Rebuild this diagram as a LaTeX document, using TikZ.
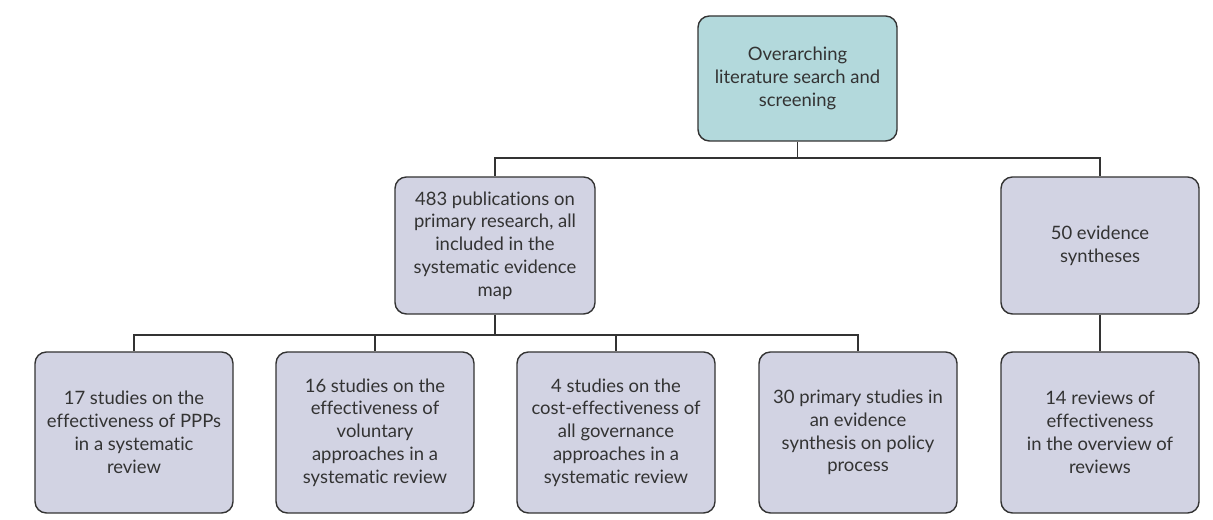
\documentclass[tikz,border=0pt]{standalone}
\usepackage{fontspec}
\setmainfont{Lato}[Ligatures=NoCommon]
\definecolor{tealbox}{HTML}{B3D9DC}
\definecolor{greybox}{HTML}{D2D3E3}
\definecolor{edge}{HTML}{333333}
\begin{document}
\begin{tikzpicture}[font=\fontsize{10.5}{13}\selectfont,
	box/.style={draw=edge,line width=0.8pt,rounded corners=6.5pt,fill=greybox,
		minimum width=39.6mm,align=center,text=black!80},
	link/.style={draw=edge,line width=0.8pt}]
	\useasboundingbox (0,0) rectangle (24.26,10.4);
	\node[box,fill=tealbox,minimum width=39.8mm,minimum height=25mm] (search) at (15.95,8.83)
		{Overarching\\literature search and\\screening};
	\node[box,minimum width=40mm,minimum height=27.4mm] (primary) at (9.9,5.49)
		{483 publications on\\primary research, all\\included in the\\systematic evidence\\map};
	\node[box,minimum height=27.4mm] (synth) at (22.0,5.49) {50 evidence\\syntheses};
	% bottom row
	\foreach \n/\x/\txt in {1/2.68/{17 studies on the\\effectiveness of PPPs\\in a systematic\\review},
		2/7.5/{16 studies on the\\effectiveness of\\voluntary\\approaches in a\\systematic review},
		3/12.32/{4 studies on the\\cost-effectiveness of\\all governance\\approaches in a\\systematic review},
		4/17.16/{30 primary studies in\\an evidence\\synthesis on policy\\process}}
		\node[box,minimum height=32.2mm] (b\n) at (\x,1.75) {\txt};
	\node[box,minimum height=32.2mm] (rev) at (22.0,1.75)
		{14 reviews of\\effectiveness\\in the overview of\\reviews};
	% connectors
	\coordinate (j1) at (15.95,7.24);
	\coordinate (j2) at (9.9,3.7);
	\draw[link] (search.south) -- (j1) -| (primary.north);
	\draw[link] (j1) -| (synth.north);
	\draw[link] (primary.south) -- (j2);
	\foreach \n in {1,...,4}
		\draw[link] (j2) -| (b\n.north);
	\draw[link] (synth.south) -- (rev.north);
\end{tikzpicture}
\end{document}
